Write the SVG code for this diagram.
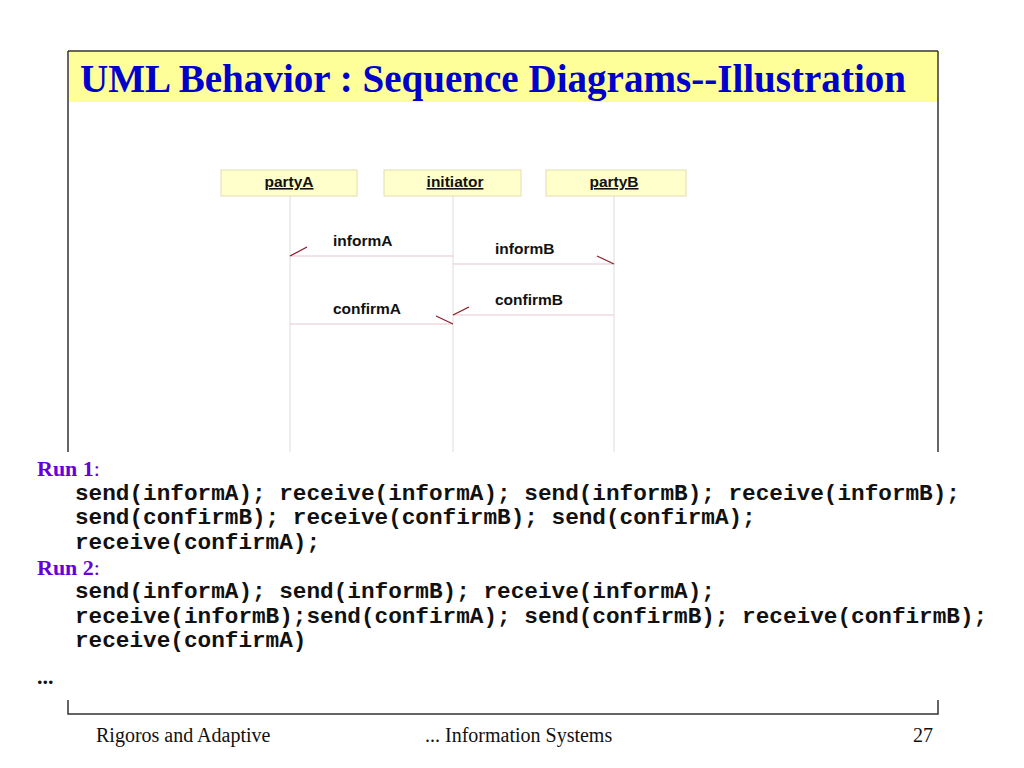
<svg xmlns="http://www.w3.org/2000/svg" width="1024" height="768" viewBox="0 0 1024 768">
<defs>
<style>
.frame{stroke:#333;stroke-width:1.5;fill:none}
.box{fill:#ffffcc;stroke:#e6dcb0;stroke-width:1}
.lbl{font-family:"Liberation Sans",Arial,sans-serif;font-weight:bold;font-size:15.5px;fill:#111;text-anchor:middle;text-decoration:underline}
.life{stroke:#dcdcdc;stroke-width:1}
.msg{stroke:#e8c8d0;stroke-width:1.2}
.head{stroke:#8b1a2a;stroke-width:1.3}
.mlbl{font-family:"Liberation Sans",Arial,sans-serif;font-weight:bold;font-size:15.5px;fill:#111}
.run{font-family:"Liberation Serif","Times New Roman",serif;font-weight:bold;font-size:22px;fill:#6600dd}
.code{font-family:"Liberation Mono","Courier New",monospace;font-weight:bold;font-size:22.7px;fill:#111}
.foot{font-family:"Liberation Serif","Times New Roman",serif;font-size:20px;fill:#111}
</style>
</defs>
<rect width="1024" height="768" fill="#fff"/>
<g id="frame">
<rect x="69" y="52" width="868" height="50" fill="#ffff99"/>
<line class="frame" x1="68" y1="51" x2="938" y2="51"/>
<line class="frame" x1="68" y1="51" x2="68" y2="452"/>
<line class="frame" x1="938" y1="51" x2="938" y2="452"/>
<polyline class="frame" points="68,700 68,714 938,714 938,700"/>
<text x="80" y="92" font-family="'Liberation Serif','Times New Roman',serif" font-weight="bold" font-size="39" fill="#0000cc" textLength="826" lengthAdjust="spacingAndGlyphs">UML Behavior : Sequence Diagrams--Illustration</text>
</g>
<g id="partyA">
<rect class="box" x="221" y="170" width="136" height="26"/>
<text class="lbl" x="289" y="187">partyA</text>
<line class="life" x1="290" y1="196" x2="290" y2="452"/>
</g>
<g id="initiator">
<rect class="box" x="384" y="170" width="137" height="26"/>
<text class="lbl" x="455" y="187">initiator</text>
<line class="life" x1="453" y1="196" x2="453" y2="452"/>
</g>
<g id="partyB">
<rect class="box" x="546" y="170" width="140" height="26"/>
<text class="lbl" x="614" y="187">partyB</text>
<line class="life" x1="614" y1="196" x2="614" y2="452"/>
</g>
<g id="connectors">
<line class="msg" x1="453" y1="256" x2="290" y2="256"/>
<line class="head" x1="290" y1="256" x2="307" y2="247"/>
<text class="mlbl" x="333" y="246">informA</text>
<line class="msg" x1="453" y1="264" x2="614" y2="264"/>
<line class="head" x1="597" y1="256" x2="614" y2="264"/>
<text class="mlbl" x="495" y="254">informB</text>
<line class="msg" x1="614" y1="315" x2="453" y2="315"/>
<line class="head" x1="453" y1="315" x2="469" y2="307"/>
<text class="mlbl" x="495" y="305">confirmB</text>
<line class="msg" x1="290" y1="324" x2="453" y2="324"/>
<line class="head" x1="436" y1="316" x2="453" y2="324"/>
<text class="mlbl" x="333" y="314">confirmA</text>
</g>
<g id="text">
<text class="run" x="37" y="476">Run 1<tspan font-weight="normal">:</tspan></text>
<text class="code" x="75" y="500">send(informA); receive(informA); send(informB); receive(informB);</text>
<text class="code" x="75" y="524">send(confirmB); receive(confirmB); send(confirmA);</text>
<text class="code" x="75" y="549">receive(confirmA);</text>
<text class="run" x="37" y="575">Run 2<tspan font-weight="normal">:</tspan></text>
<text class="code" x="75" y="598">send(informA); send(informB); receive(informA);</text>
<text class="code" x="75" y="623">receive(informB);send(confirmA); send(confirmB); receive(confirmB);</text>
<text class="code" x="75" y="647">receive(confirmA)</text>
<text class="run" x="37" y="684" fill="#111" style="fill:#111">...</text>
<text class="foot" x="96" y="742">Rigoros and Adaptive</text>
<text class="foot" x="425" y="742">... Information Systems</text>
<text class="foot" x="933" y="742" text-anchor="end">27</text>
</g>
</svg>
